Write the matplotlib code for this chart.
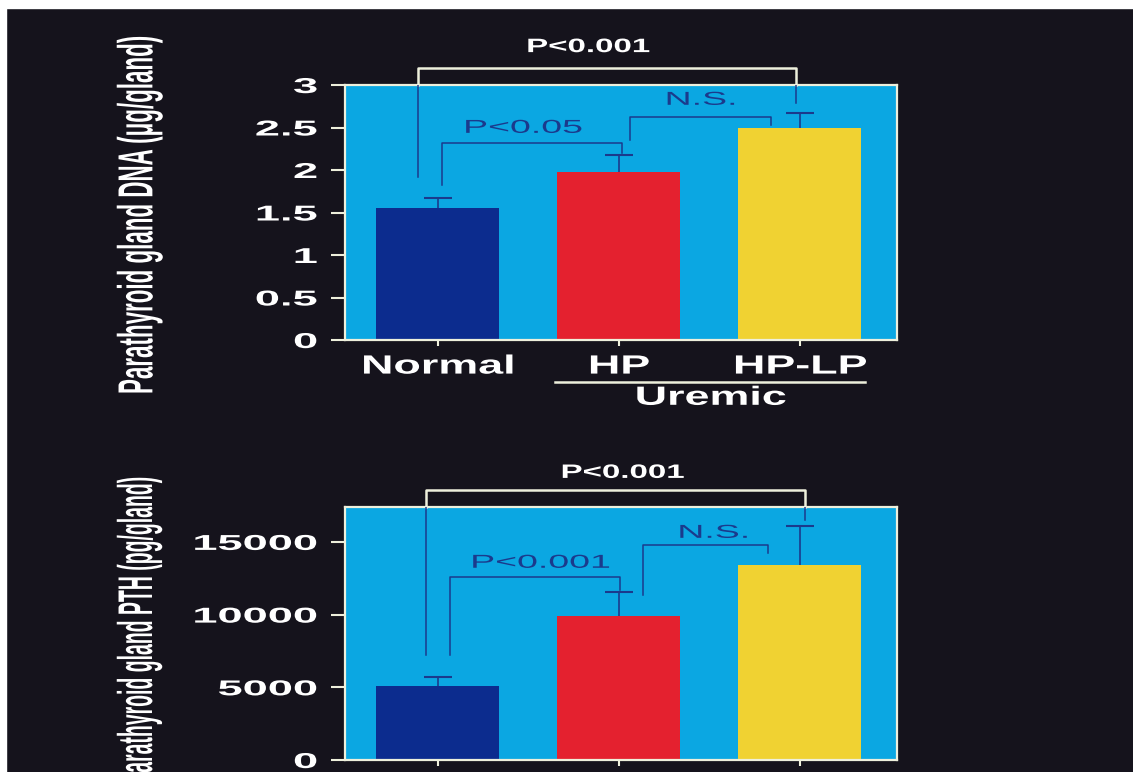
import numpy as np
import matplotlib
matplotlib.use('Agg')
import matplotlib.pyplot as plt
from matplotlib.patches import Rectangle
from matplotlib.patheffects import AbstractPathEffect
from matplotlib.transforms import Affine2D

groups = ['Normal', 'HP', 'HP-LP']
dna_mean = [1.55, 1.98, 2.50]
dna_err = [0.12, 0.20, 0.17]
pth_mean = [5100, 9900, 13400]
pth_err = [600, 1650, 2700]

bar_colors = ['#0c2c8e', '#e4212f', '#f0d232']
bg = '#15131c'
panel = '#0ba7e2'
line_blue = '#1b3a8c'
cream = '#eef0dc'


class Stretch(AbstractPathEffect):
    # rescale glyphs (the slide font is very wide / the axis titles condensed)
    def __init__(self, sx=1.0, sy=1.0, anchor='center'):
        super().__init__()
        self.sx = sx
        self.sy = sy
        self.anchor = anchor

    def draw_path(self, renderer, gc, tpath, affine, rgbFace=None):
        v = tpath.vertices
        if len(v) == 0:
            return
        if self.anchor == 'right':
            x0 = v[:, 0].max()
        elif self.anchor == 'left':
            x0 = v[:, 0].min()
        else:
            x0 = (v[:, 0].min() + v[:, 0].max()) / 2
        y0 = (v[:, 1].min() + v[:, 1].max()) / 2
        t = Affine2D().translate(-x0, -y0).scale(self.sx, self.sy).translate(x0, y0)
        renderer.draw_path(gc, tpath, t + affine, rgbFace)


fig = plt.figure(figsize=(11.33, 7.72), dpi=100, facecolor=bg)
# white scan border on top and left
fig.add_artist(Rectangle((0, 1 - 8 / 772), 1, 8 / 772, transform=fig.transFigure, color='white', zorder=5))
fig.add_artist(Rectangle((0, 0), 6 / 1133, 1, transform=fig.transFigure, color='white', zorder=5))

ax1 = fig.add_axes([345 / 1133, 1 - 340 / 772, 552 / 1133, 255 / 772])
ax2 = fig.add_axes([345 / 1133, 1 - 760 / 772, 552 / 1133, 253 / 772])

x = np.arange(len(groups))


def style_axes(ax, ylim, yticks, ylabels):
    ax.set_facecolor(panel)
    for s in ax.spines.values():
        s.set_color(cream)
        s.set_linewidth(1.6)
    ax.set_xlim(-0.511, 2.536)
    ax.set_ylim(*ylim)
    ax.set_yticks(yticks, ylabels)
    ax.set_xticks(x)
    ax.tick_params(axis='y', colors=cream, length=10, width=1.5, pad=10)
    ax.tick_params(axis='x', colors=cream, length=4.5, width=1.5, pad=6)
    for lab in ax.get_yticklabels():
        lab.set_color('white')
        lab.set_fontfamily('Liberation Sans')
        lab.set_fontweight('bold')
        lab.set_fontsize(15.5)
        lab.set_path_effects([Stretch(2.1, 1.0, 'right')])


def bars(ax, means, errs):
    ax.bar(x, means, width=0.68, color=bar_colors, zorder=2)
    eb = ax.errorbar(x, means, yerr=[np.zeros(len(errs)), errs], fmt='none',
                     ecolor=line_blue, elinewidth=1.2, capsize=10, capthick=1.5, zorder=3)
    eb[1][0].set_visible(False)  # only the upper cap is drawn


def bracket(ax, x1, x2, y, y1, y2):
    ax.plot([x1, x1, x2, x2], [y1, y, y, y2], color=line_blue, lw=1.1, zorder=3)


def big_bracket(ax, x1, x2, y, y1, y2, top):
    ax.plot([x1, x1, x2, x2], [top, y, y, top], color=cream, lw=1.8, clip_on=False)
    ax.plot([x1, x1], [y1, top], color=line_blue, lw=1.1, zorder=3)
    ax.plot([x2, x2], [y2, top], color=line_blue, lw=1.1, zorder=3)


def blue_text(ax, xx, yy, s):
    ax.text(xx, yy, s, color=line_blue, fontsize=13.5, family='Liberation Sans',
            ha='center', va='center', path_effects=[Stretch(2.0)], zorder=4)


def white_text(ax, xx, yy, s):
    ax.text(xx, yy, s, color='white', fontsize=14, family='Liberation Sans', fontweight='bold',
            ha='center', va='center', path_effects=[Stretch(1.7)], clip_on=False)


# top panel: DNA
style_axes(ax1, (0, 3), [0, 0.5, 1, 1.5, 2, 2.5, 3], ['0', '0.5', '1', '1.5', '2', '2.5', '3'])
bars(ax1, dna_mean, dna_err)
ax1.set_xticklabels(groups)
for lab in ax1.get_xticklabels():
    lab.set_color('white')
    lab.set_fontfamily('Liberation Sans')
    lab.set_fontweight('bold')
    lab.set_fontsize(19)
    lab.set_path_effects([Stretch(1.7)])
bracket(ax1, 0.025, 1.02, 2.32, 1.82, 2.20)
bracket(ax1, 1.06, 1.84, 2.62, 2.35, 2.53)
big_bracket(ax1, -0.108, 1.98, 3.2, 1.92, 2.79, 3)
blue_text(ax1, 0.47, 2.49, 'P<0.05')
blue_text(ax1, 1.45, 2.82, 'N.S.')
white_text(ax1, 0.83, 3.44, 'P<0.001')
ax1.plot([0.65, 2.36], [-0.494, -0.494], color=cream, lw=1.8, clip_on=False)
ax1.text(1.506, -0.68, 'Uremic', color='white', fontsize=19, family='Liberation Sans',
         fontweight='bold', ha='center', va='center', path_effects=[Stretch(1.7)], clip_on=False)

# bottom panel: PTH
style_axes(ax2, (0, 17400), [0, 5000, 10000, 15000], ['0', '5000', '10000', '15000'])
bars(ax2, pth_mean, pth_err)
ax2.set_xticklabels(['', '', ''])
bracket(ax2, 0.069, 1.008, 12570, 7210, 11675)
bracket(ax2, 1.135, 1.826, 14770, 11330, 14220)
big_bracket(ax2, -0.064, 2.03, 18540, 7210, 16480, 17400)
blue_text(ax2, 0.566, 13530, 'P<0.001')
blue_text(ax2, 1.52, 15590, 'N.S.')
white_text(ax2, 1.02, 19710, 'P<0.001')

# rotated axis titles, condensed as on the slide: small size, glyphs made taller
fig.text(140 / 1133, 1 - 215 / 772, 'Parathyroid gland DNA (\u03bcg/gland)', rotation=90,
         color='white', fontsize=16.1, family='Liberation Sans', fontweight='bold',
         ha='center', va='center', path_effects=[Stretch(1.0, 2.2)])
fig.text(140 / 1133, 1 - 631 / 772, 'Parathyroid gland PTH (pg/gland)', rotation=90,
         color='white', fontsize=14, family='Liberation Sans', fontweight='bold',
         ha='center', va='center', path_effects=[Stretch(1.0, 2.5)])

fig.savefig('out.png', dpi=100, facecolor=fig.get_facecolor())
